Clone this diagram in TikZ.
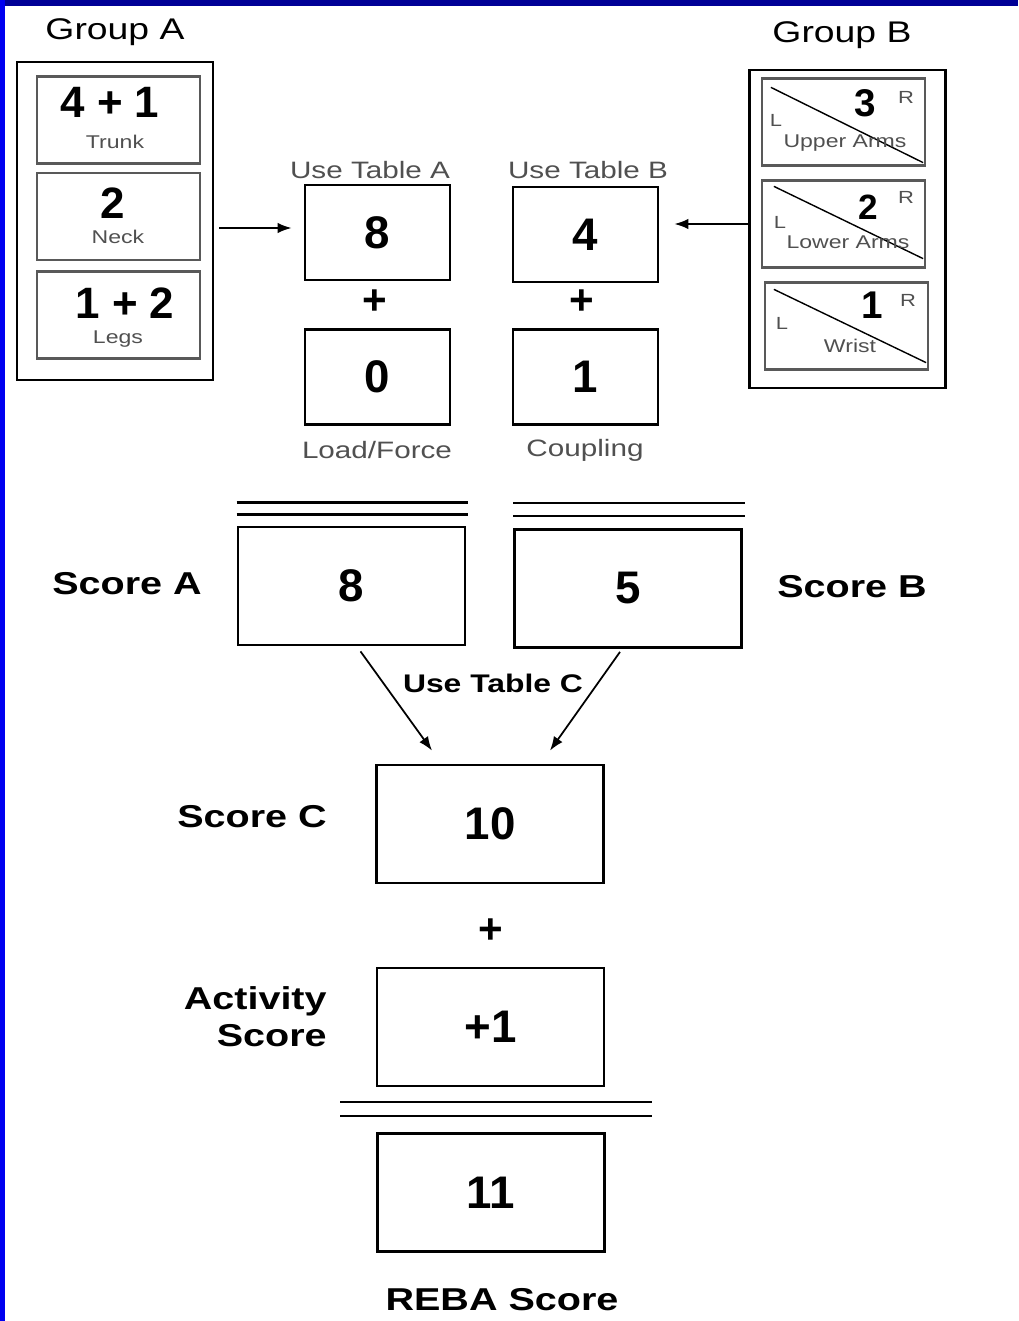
\documentclass[tikz,border=0pt]{standalone}
\usepackage{fontspec}
\setmainfont{Liberation Sans}
\newfontfamily\widesf[FakeStretch=1.25]{Liberation Sans}
\usetikzlibrary{arrows.meta,calc,positioning}
\definecolor{lblgray}{RGB}{80,80,80}
\definecolor{slideblue}{RGB}{0,0,240}
\definecolor{slidenavy}{RGB}{0,0,150}
\tikzset{
	numbox/.style={draw=black, line width=1.6pt, minimum width=2.9cm, minimum height=1.9cm,
		inner sep=0pt, font=\bfseries\fontsize{26}{26}\selectfont},
	scorebox/.style={numbox, minimum width=4.54cm, minimum height=2.36cm},
	grpbox/.style={draw=black, line width=1.4pt, minimum width=3.92cm, minimum height=6.36cm, inner sep=0pt},
	partbox/.style={draw=black!65, line width=1.3pt, minimum width=3.26cm, minimum height=1.74cm, inner sep=0pt},
	handnum/.style={font=\bfseries\fontsize{25}{25}\selectfont, inner sep=0pt},
	parttag/.style={text=lblgray, font=\widesf\fontsize{10.5}{12}\selectfont, inner sep=0pt},
	sidetag/.style={text=lblgray, font=\widesf\fontsize{10}{11}\selectfont, inner sep=0pt},
	grptitle/.style={font=\widesf\fontsize{17}{20}\selectfont, inner sep=0pt},
	tbltag/.style={text=lblgray, font=\widesf\fontsize{13.5}{15}\selectfont, inner sep=0pt},
	scoretag/.style={font=\widesf\bfseries\fontsize{18}{21}\selectfont, inner sep=0pt, align=right},
	plus/.style={font=\bfseries\fontsize{24}{24}\selectfont, inner sep=0pt},
	arr/.style={-{Latex[length=8pt,width=6pt]}, line width=1pt},
	dblrule/.style={line width=1.5pt},
}
\begin{document}
\begin{tikzpicture}[x=0.02cm, y=-0.02cm]
	\useasboundingbox (0,0) rectangle (1018,1321);
	% Rand der Folie
	\fill[slidenavy] (0,0) rectangle (1018,6);
	\fill[slideblue] (0,0) rectangle (5,1321);

	% Gruppe A
	\node[grptitle] (titleA) at (115,32) {Group A};
	\node[grpbox] (grpA) at (115,221) {};
	\node[partbox] (trunk) at (118.5,120) {};
	\node[handnum] at (110,102) {4 + 1};
	\node[parttag] at (115,142) {Trunk};
	\node[partbox] (neck) at (118.5,216.5) {};
	\node[handnum] at (113,203) {2};
	\node[parttag] at (118,237) {Neck};
	\node[partbox] (legs) at (118.5,315) {};
	\node[handnum] at (125,303) {1 + 2};
	\node[parttag] at (118,339) {Legs};

	% Gruppe B
	\node[grptitle] (titleB) at (842,35) {Group B};
	\node[grpbox] (grpB) at (847.5,229) {};
	\node[partbox] (upper) at (843.5,122) {};
	\draw[line width=0.8pt] ($(upper.north west)+(10,10)$) -- ($(upper.south east)+(-3,-4)$);
	\node[handnum, font=\bfseries\fontsize{22}{22}\selectfont] at (865,103) {3};
	\node[sidetag] at (906,97) {R};
	\node[sidetag] at (776,120) {L};
	\node[parttag] at (845,143) {Upper Arms};
	\node[partbox] (lower) at (843.5,224) {};
	\draw[line width=0.8pt] ($(lower.north west)+(13,7)$) -- ($(lower.south east)+(-3,-10)$);
	\node[handnum, font=\bfseries\fontsize{20}{20}\selectfont] at (868,207) {2};
	\node[sidetag] at (906,197) {R};
	\node[sidetag] at (780,222) {L};
	\node[parttag] at (848,242) {Lower Arms};
	\node[partbox] (wrist) at (846.5,326) {};
	\draw[line width=0.8pt] ($(wrist.north west)+(10,8)$) -- ($(wrist.south east)+(-3,-8)$);
	\node[handnum, font=\bfseries\fontsize{22}{22}\selectfont] at (872,305) {1};
	\node[sidetag] at (908,300) {R};
	\node[sidetag] at (782,323) {L};
	\node[parttag] at (850,346) {Wrist};

	% Tabellen A und B
	\node[tbltag] at (370,170) {Use Table A};
	\node[numbox] (tabA) at (377.5,232.5) {8};
	\node[plus] at (375,302) {+};
	\node[numbox] (load) at (377.5,377) {0};
	\node[tbltag] at (377,450) {Load/Force};
	\node[tbltag] at (588,170) {Use Table B};
	\node[numbox] (tabB) at (585.5,234.5) {4};
	\node[plus] at (582,302) {+};
	\node[numbox] (coupling) at (585.5,377) {1};
	\node[tbltag] at (585,450) {Coupling};
	\draw[arr] ($(grpA.east)+(5,7)$) -- ($(tabA.west)+(-12,-4.5)$);
	\draw[arr] ($(grpB.west)+(0,-5)$) -- ($(tabB.east)+(15,-10.5)$);

	% Score A und B
	\node[scorebox] (scoreA) at (351.5,586) {8};
	\node[scoretag] at (127,584) {Score A};
	\draw[dblrule] ($(scoreA.north west)+(0,-23)$) -- ($(scoreA.north east)+(2,-23)$);
	\draw[dblrule] ($(scoreA.north west)+(0,-11)$) -- ($(scoreA.north east)+(2,-11)$);
	\node[scorebox] (scoreB) at (628,588.5) {5};
	\node[scoretag] at (852,587) {Score B};
	\draw[dblrule] ($(scoreB.north west)+(0,-25)$) -- ($(scoreB.north east)+(2,-25)$);
	\draw[dblrule] ($(scoreB.north west)+(0,-12)$) -- ($(scoreB.north east)+(2,-12)$);

	% Score C
	\node[scoretag, font=\widesf\bfseries\fontsize{14.5}{16}\selectfont] at (493,683) {Use Table C};
	\node[scorebox] (scoreC) at (490,824) {10};
	\node[scoretag, anchor=east] at (327,817) {Score C};
	\draw[arr] ($(scoreA.south)+(9,5)$) -- ($(scoreC.north)+(-58,-13)$);
	\draw[arr] ($(scoreB.south)+(-8,3)$) -- ($(scoreC.north)+(60,-13)$);

	% Aktivitaet und REBA
	\node[plus] at (491,931) {+};
	\node[scorebox] (activity) at (490.5,1027) {+1};
	\node[scoretag, anchor=east] at (327,1017) {Activity\\Score};
	\draw[dblrule] (340,1102) -- (652,1102);
	\draw[dblrule] (340,1116) -- (652,1116);
	\node[scorebox] (reba) at (491,1192.5) {11};
	\node[scoretag, font=\widesf\bfseries\fontsize{18}{21}\selectfont] at (502,1300) {REBA Score};
\end{tikzpicture}
\end{document}
